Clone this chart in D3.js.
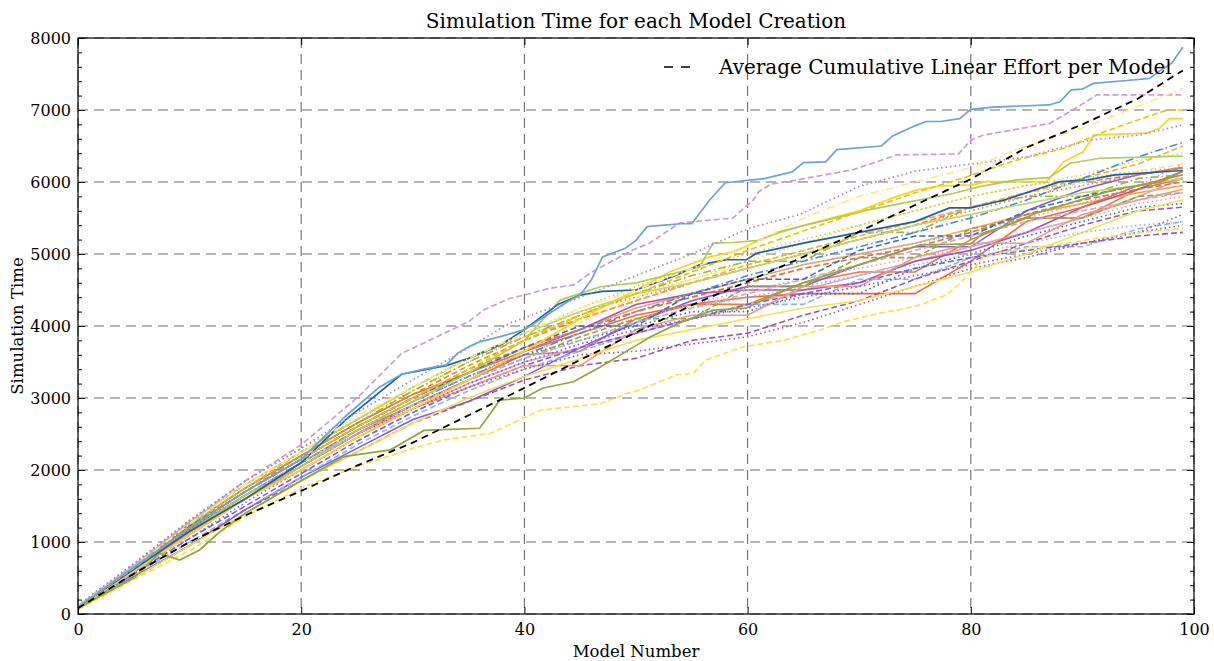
<!DOCTYPE html>
<html>
<head>
<meta charset="utf-8">
<script src="https://cdn.jsdelivr.net/npm/d3@7"></script>
<style>
	body { margin: 0; background: #fff; }
	svg text { font-family: 'DejaVu Serif', serif; fill: #000; }
</style>
</head>
<body>
<svg id="chart" width="1214" height="661"></svg>
<script>
// model numbers shared by the coarse runs
var modelGrid = [0, 5, 10, 15, 20, 25, 30, 35, 40, 45, 50, 55, 60, 65, 70, 75, 80, 85, 90, 95, 99];

var xTicks = [0, 20, 40, 60, 80, 100];
var yTicks = [0, 1000, 2000, 3000, 4000, 5000, 6000, 7000, 8000];

// bulk of the simulation runs, read off roughly at modelGrid
var bulkRuns = [
	[90, 620, 1180, 1650, 2100, 2550, 2900, 3250, 3600, 3650, 4100, 4300, 4300, 4600, 4750, 4750, 5200, 5500, 5500, 5900, 6050],
	[100, 650, 1220, 1700, 2150, 2600, 3000, 3350, 3700, 3950, 4250, 4450, 4650, 4850, 5000, 5150, 5350, 5550, 5700, 5850, 5950],
	[80, 520, 950, 1450, 1900, 2300, 2700, 2950, 3300, 3700, 4050, 4350, 4550, 4550, 4850, 5100, 5100, 5600, 5900, 6100, 6200],
	[100, 600, 1100, 1600, 2000, 2450, 2850, 3200, 3500, 3700, 3900, 4100, 4300, 4500, 4700, 4900, 5100, 5300, 5500, 5800, 6050],
	[90, 580, 1150, 1600, 2050, 2500, 2900, 3250, 3650, 3950, 4300, 4450, 4500, 4500, 4600, 4900, 5050, 5300, 5650, 5900, 6150],
	[100, 640, 1250, 1750, 2200, 2650, 3050, 3350, 3650, 3900, 4150, 4300, 4400, 4450, 4450, 4450, 4900, 5450, 5650, 5950, 6100],
	[110, 680, 1300, 1850, 2300, 2700, 3100, 3500, 3900, 4250, 4550, 4800, 5000, 5200, 5400, 5600, 5800, 5950, 6050, 6150, 6200],
	[100, 630, 1200, 1700, 2200, 2650, 3050, 3450, 3800, 4100, 4350, 4600, 4800, 5000, 5200, 5400, 5650, 5850, 6000, 6100, 6200],
	[80, 540, 1000, 1450, 1900, 2350, 2750, 3100, 3400, 3650, 3900, 4100, 4300, 4300, 4650, 4650, 4950, 5100, 5100, 5350, 5450],
	[90, 560, 1050, 1500, 1950, 2400, 2800, 3150, 3450, 3700, 3900, 4100, 4300, 4450, 4600, 4800, 4950, 5050, 5150, 5250, 5300],
	[70, 500, 950, 1450, 1850, 2250, 2650, 2950, 3250, 3450, 3550, 3800, 3900, 4150, 4350, 4650, 4900, 5150, 5400, 5600, 5650],
	[110, 650, 1250, 1700, 2150, 2600, 2950, 3300, 3600, 3900, 4100, 4300, 4500, 4650, 4800, 4950, 5100, 5300, 5500, 5700, 5800],
	[100, 620, 1180, 1650, 2100, 2550, 2950, 3300, 3600, 3800, 4000, 4200, 4200, 4450, 4450, 4800, 5000, 5250, 5450, 5650, 5700],
	[120, 700, 1300, 1800, 2250, 2700, 3150, 3550, 3900, 4200, 4400, 4600, 4800, 5000, 5200, 5400, 5600, 5800, 5950, 6100, 6200],
	[100, 660, 1250, 1750, 2250, 2700, 3100, 3450, 3800, 4150, 4450, 4650, 4900, 5150, 5400, 5600, 5800, 5950, 6100, 6300, 6400],
	[90, 600, 1150, 1650, 2100, 2550, 2950, 3350, 3700, 4050, 4400, 4650, 4850, 5050, 5250, 5450, 5650, 5850, 6000, 6150, 6250],
	[100, 640, 1230, 1750, 2200, 2650, 3100, 3500, 3850, 4150, 4450, 4700, 4900, 4900, 5300, 5300, 5650, 5800, 5800, 6050, 6100],
	[110, 660, 1250, 1750, 2250, 2700, 3150, 3550, 3850, 4100, 4350, 4600, 4850, 5050, 5250, 5450, 5650, 5850, 6050, 6250, 6500],
	[90, 600, 1150, 1650, 2100, 2550, 2950, 3300, 3600, 3900, 4200, 4450, 4700, 4900, 5100, 5300, 5500, 5750, 6050, 6350, 6550],
	[100, 620, 1150, 1650, 2100, 2550, 2950, 3300, 3650, 3950, 4250, 4450, 4650, 4850, 5000, 5150, 5300, 5500, 5700, 5950, 6250],
	[90, 580, 1100, 1600, 2050, 2500, 2900, 3250, 3550, 3850, 4100, 4100, 4550, 4550, 4950, 4950, 5350, 5500, 5500, 5800, 5850],
	[90, 590, 1120, 1600, 2050, 2500, 2850, 3150, 3450, 3450, 3950, 4150, 4150, 4550, 4550, 4950, 5150, 5150, 5550, 5750, 5900],
	[80, 560, 1050, 1550, 2000, 2450, 2850, 3200, 3500, 3750, 3950, 4100, 4250, 4400, 4550, 4700, 4850, 5000, 5150, 5300, 5400],
	[100, 600, 1150, 1600, 2050, 2500, 2850, 3150, 3400, 3600, 3650, 3750, 3850, 4050, 4300, 4550, 4800, 4950, 5150, 5300, 5550],
	[80, 500, 950, 1400, 1850, 2250, 2650, 3000, 3300, 3550, 3800, 3950, 4100, 4250, 4350, 4550, 4750, 5000, 5300, 5600, 5750],
	[100, 620, 1200, 1700, 2150, 2600, 3000, 3400, 3700, 3950, 4200, 4400, 4600, 4800, 4950, 5100, 5300, 5550, 5750, 5900, 6000],
	[90, 580, 1100, 1600, 2050, 2500, 2900, 3250, 3550, 3800, 4050, 4250, 4450, 4650, 4850, 5050, 5250, 5450, 5600, 5750, 5850],
	[100, 640, 1220, 1700, 2150, 2600, 3000, 3350, 3700, 4000, 4000, 4450, 4650, 4650, 5050, 5250, 5250, 5600, 5800, 5950, 6050],
	[110, 670, 1280, 1800, 2250, 2700, 3150, 3550, 3900, 4200, 4450, 4600, 4800, 5000, 5200, 5400, 5550, 5700, 5850, 5950, 6050],
	[90, 600, 1150, 1650, 2100, 2500, 2900, 3250, 3550, 3800, 4050, 4250, 4400, 4550, 4700, 4850, 5000, 5150, 5300, 5400, 5450]
];
var bulkColors = ['#f07838', '#f5a84a', '#7b5cf0', '#e3a3c5', '#a555a8', '#ee6b3b', '#b5d060', '#f07838', '#8ab8ea', '#7b5cf0',
	'#a555a8', '#e3a3c5', '#2f6fc0', '#f07838', '#ffd21f', '#ffe680', '#9ab63a', '#f5a84a', '#4a8ad8', '#b99be6',
	'#8fa83a', '#f39a7a', '#7b5cf0', '#a555a8', '#f5e050', '#ee6b3b', '#e3a3c5', '#2f6fc0', '#c2d66a', '#8ab8ea'];
var bulkStyles = ['solid', 'solid', 'solid', 'solid', 'solid', 'solid', 'dotted', 'dashed', 'dashed', 'dashed',
	'dashed', 'dotted', 'dotted', 'dotted', 'dotted', 'dashed', 'dashdot', 'dashed', 'dashdot', 'dotted',
	'dashed', 'solid', 'dotted', 'dotted', 'solid', 'dashed', 'dashed', 'dashed', 'solid', 'dotted'];

// runs that stand out, read in more detail as [model, time]
var topBlueRun = [[0, 100], [5, 650], [10, 1200], [15, 1700], [20, 2150], [24, 2750], [27, 3150], [29, 3330], [31, 3400], [33, 3460],
	[34, 3620], [35, 3710], [36, 3780], [38, 3860], [40, 3950], [42, 4150], [44, 4350], [45, 4430], [46, 4640], [47, 4960],
	[49, 5075], [50, 5190], [51, 5380], [54, 5420], [55, 5420], [56.6, 5750], [58, 5990], [61.6, 6050], [64, 6140], [65, 6270],
	[67, 6280], [68, 6450], [72, 6500], [73, 6640], [75, 6780], [76, 6840], [77.3, 6840], [79, 6880], [80, 7010], [82, 7040],
	[87, 7070], [88, 7115], [89, 7280], [90, 7290], [91, 7370], [94, 7410], [96, 7440], [97, 7550], [98, 7650], [99, 7870]];
var topLilacRun = [[0, 110], [5, 680], [10, 1280], [15, 1850], [20, 2350], [25, 3000], [29, 3620], [30.6, 3735], [35, 4060], [36.3, 4220],
	[38.7, 4385], [40, 4430], [42.3, 4525], [44.4, 4570], [46.1, 4755], [49.7, 5055], [51.2, 5150], [53.9, 5430], [58.7, 5500], [60.5, 5750],
	[61, 5865], [62.1, 5970], [64.1, 6020], [69.4, 6170], [71.2, 6260], [73.3, 6375], [78.9, 6390], [80, 6580], [81.1, 6650], [87.1, 6815],
	[89.6, 7045], [91.3, 7210], [99, 7210]];
var lowYellowRun = [[0, 60], [5, 480], [10, 880], [15, 1350], [20, 1750], [25, 2050], [30, 2300], [32.7, 2415], [37, 2510], [39.9, 2720],
	[41.4, 2830], [44.4, 2880], [46.8, 2920], [49.2, 3065], [50.3, 3110], [53.6, 3320], [55.1, 3340], [56.3, 3530], [59.6, 3710], [63.2, 3800],
	[66.5, 3945], [68.6, 4060], [71.9, 4180], [73.7, 4230], [75.4, 4290], [77.8, 4430], [79, 4590], [80.2, 4780], [81.1, 4960], [83.2, 5030],
	[85.3, 5080], [88.6, 5150], [92.2, 5240], [96.1, 5310], [99, 5360]];
var highYellowRun = [[0, 90], [5, 600], [10, 1100], [15, 1600], [20, 2000], [25, 2450], [30, 2850], [35, 3250], [40, 3650], [45, 4100],
	[50, 4500], [53, 4750], [56.6, 4960], [58.7, 5030], [62, 5250], [65, 5400], [70, 5600], [73.4, 5800], [75.2, 5890], [77.2, 5945],
	[80.2, 5960], [81.4, 6005], [86.8, 6005], [88.3, 6280], [90.1, 6420], [91, 6650], [95.8, 6680], [96.9, 6745], [97.8, 6880], [99, 6880]];
var limeRun = [[0, 100], [5, 620], [10, 1150], [15, 1650], [20, 2050], [25, 2550], [30, 2950], [35, 3350], [40, 3800], [42, 4150],
	[43.2, 4360], [46.8, 4545], [50, 4600], [55.7, 4820], [56.9, 5150], [58.7, 5160], [61, 5190], [62.9, 5310], [64.7, 5380], [66.5, 5450],
	[68.4, 5520], [70.7, 5610], [73.7, 5700], [78.4, 5840], [80.8, 5935], [84.1, 6030], [87, 6060], [88.9, 6260], [91.6, 6330], [99, 6360]];
var oliveRun = [[0, 80], [5, 500], [7.3, 845], [9.1, 750], [10.9, 890], [12.7, 1140], [15, 1400], [20, 1850], [23.8, 2185], [28, 2280],
	[31, 2550], [36, 2580], [37.8, 2970], [40, 3000], [41.6, 3135], [44.4, 3225], [46.8, 3430], [49.8, 3710], [51.3, 3850], [54, 4050],
	[56.9, 4220], [59.9, 4250], [61.4, 4360], [65, 4600], [70, 4850], [73, 5000], [75.4, 5125], [80, 5140], [81.1, 5290], [82.9, 5380],
	[85.9, 5570], [89.8, 5750], [93, 5900], [97, 6000], [99, 6150]];
var darkBlueRun = [[0, 100], [5, 620], [10, 1150], [15, 1600], [20, 2100], [24, 2700], [29, 3330], [33, 3450], [35, 3550], [38, 3750],
	[40, 3950], [43, 4300], [45, 4430], [47, 4480], [50, 4500], [53.4, 4690], [55.7, 4850], [58.1, 4920], [59.9, 4920], [60.8, 5010],
	[62, 5050], [65, 5150], [70, 5300], [75, 5450], [78.1, 5640], [80, 5640], [83, 5750], [88, 6005], [90.5, 6030], [92.9, 6100], [99, 6160]];
var periwinkleRun = [[0, 120], [5, 700], [10, 1300], [15, 1850], [20, 2300], [25, 2800], [30, 3250], [35, 3700], [38.7, 4040], [45, 4400],
	[50, 4700], [55, 5000], [60, 5350], [64.7, 5550], [69.9, 5935], [75, 6150], [80, 6250], [85, 6350], [90.6, 6580], [95, 6650], [99, 6790]];
var goldDashRun = [[0, 100], [5, 640], [10, 1200], [15, 1700], [20, 2150], [25, 2600], [30, 3000], [35, 3400], [40, 3800], [45, 4150],
	[50, 4450], [55, 4750], [60, 5050], [66.5, 5400], [70.7, 5620], [75, 5850], [79.6, 6070], [84, 6300], [88.4, 6470], [92, 6700],
	[95.5, 6890], [97.6, 7000], [99, 7000]];
var paleYellowRun = [[0, 110], [5, 650], [10, 1250], [15, 1800], [20, 2250], [25, 2750], [30, 3150], [35, 3550], [40, 3900], [45, 4250],
	[50, 4500], [55, 4800], [60, 5100], [65, 5500], [70, 5800], [75, 6000], [80, 6200], [85, 6500], [90, 6750], [95, 7050], [99, 7300]];

var averageEffort = [[0, 80], [5, 560], [10, 1000], [15, 1370], [20, 1710], [25, 2060], [30, 2380], [35, 2760], [40, 3140], [45, 3530],
	[50, 3910], [55, 4290], [60, 4620], [65, 4960], [70, 5310], [75, 5680], [80, 6040], [85, 6480], [90, 6800], [95, 7160], [99, 7550]];

var namedRuns = [topLilacRun, lowYellowRun, highYellowRun, limeRun, oliveRun, darkBlueRun, periwinkleRun, goldDashRun, paleYellowRun, topBlueRun];
var namedColors = ['#c99ed8', '#ffe04a', '#ffd21f', '#b0cc55', '#8fa83a', '#1f5fa8', '#9b86ea', '#f2c200', '#ffe98a', '#6aa2e0'];
var namedStyles = ['dashed', 'dashed', 'solid', 'solid', 'solid', 'solid', 'dotted', 'dashed', 'dashdot', 'solid'];

var DASHES = { solid: null, dashed: '6,3', dotted: '1.5,3', dashdot: '8,3,1.5,3' };

var svg = d3.select('#chart'),
	margin = { top: 38, right: 20, bottom: 47, left: 78 },
	width = 1214 - margin.left - margin.right,
	height = 661 - margin.top - margin.bottom;

var x = d3.scaleLinear().domain([ 0, 100 ]).range([ 0, width ]);
var y = d3.scaleLinear().domain([ 0, 8000 ]).range([ height, 0 ]);

var g = svg.append('g').attr('transform', 'translate(' + margin.left + ',' + margin.top + ')');

g.append('clipPath').attr('id', 'plot-clip').append('rect').attr('width', width).attr('height', height);

// dashed grey grid
g.append('g').selectAll('line').data(xTicks).enter().append('line')
	.attr('x1', function(d) { return x(d); }).attr('x2', function(d) { return x(d); })
	.attr('y1', 0).attr('y2', height)
	.attr('stroke', '#6e6e6e').attr('stroke-width', 1.1).attr('stroke-dasharray', '10,6');
g.append('g').selectAll('line').data(yTicks).enter().append('line')
	.attr('y1', function(d) { return y(d); }).attr('y2', function(d) { return y(d); })
	.attr('x1', 0).attr('x2', width)
	.attr('stroke', '#6e6e6e').attr('stroke-width', 1.1).attr('stroke-dasharray', '10,6');

var line = d3.line()
	.x(function(d) { return x(d[0]); })
	.y(function(d) { return y(d[1]); });

var runs = g.append('g').attr('clip-path', 'url(#plot-clip)');

bulkRuns.forEach(function(vals, i) {
	var pts = vals.map(function(v, j) { return [ modelGrid[j], v ]; });
	runs.append('path')
		.datum(pts)
		.attr('d', line)
		.attr('fill', 'none')
		.attr('stroke', bulkColors[i])
		.attr('stroke-width', 1.6)
		.attr('stroke-dasharray', DASHES[bulkStyles[i]]);
});

namedRuns.forEach(function(pts, i) {
	runs.append('path')
		.datum(pts)
		.attr('d', line)
		.attr('fill', 'none')
		.attr('stroke', namedColors[i])
		.attr('stroke-width', 1.7)
		.attr('stroke-dasharray', DASHES[namedStyles[i]]);
});

runs.append('path')
	.datum(averageEffort)
	.attr('d', line)
	.attr('fill', 'none')
	.attr('stroke', '#000')
	.attr('stroke-width', 1.8)
	.attr('stroke-dasharray', '7,5');

// axes: ticks point inward on all four sides
var minorY = d3.range(0, 8001, 200).filter(function(d) { return d % 1000 != 0; });

g.append('g').attr('class', 'x axis').attr('transform', 'translate(0,' + height + ')')
	.call(d3.axisBottom(x).tickValues(xTicks).tickSizeInner(-7).tickSizeOuter(0).tickPadding(10).tickFormat(d3.format('d')));
g.append('g').attr('class', 'x axis top').call(d3.axisTop(x).tickValues(xTicks).tickSizeInner(-7).tickSizeOuter(0).tickFormat(''));
g.append('g').attr('class', 'y axis')
	.call(d3.axisLeft(y).tickValues(yTicks).tickSizeInner(-7).tickSizeOuter(0).tickPadding(7).tickFormat(d3.format('d')));
g.append('g').attr('class', 'y axis right').attr('transform', 'translate(' + width + ',0)')
	.call(d3.axisRight(y).tickValues(yTicks).tickSizeInner(-7).tickSizeOuter(0).tickFormat(''));
g.append('g').attr('class', 'y minor')
	.call(d3.axisLeft(y).tickValues(minorY).tickSizeInner(-4).tickSizeOuter(0).tickFormat(''));
g.append('g').attr('class', 'y minor right').attr('transform', 'translate(' + width + ',0)')
	.call(d3.axisRight(y).tickValues(minorY).tickSizeInner(-4).tickSizeOuter(0).tickFormat(''));

g.selectAll('.axis path, .minor path').remove();
g.selectAll('.tick line').attr('stroke', '#000').attr('stroke-width', 1);
g.selectAll('.tick text').style('font-size', '16px').style('font-family', "'DejaVu Serif', serif").attr('fill', '#000');

g.append('rect')
	.attr('width', width).attr('height', height)
	.attr('fill', 'none').attr('stroke', '#000').attr('stroke-width', 1.2);

// titles
svg.append('text')
	.attr('x', margin.left + width / 2).attr('y', 28)
	.attr('text-anchor', 'middle').style('font-size', '20px')
	.text('Simulation Time for each Model Creation');
svg.append('text')
	.attr('x', margin.left + width / 2).attr('y', 657)
	.attr('text-anchor', 'middle').style('font-size', '16.5px')
	.text('Model Number');
svg.append('text')
	.attr('transform', 'translate(23,' + (margin.top + height / 2) + ') rotate(-90)')
	.attr('text-anchor', 'middle').style('font-size', '16.5px')
	.text('Simulation Time');

// legend, no frame
var legend = g.append('g').attr('transform', 'translate(586,29)');
legend.append('line')
	.attr('x1', 0).attr('x2', 32).attr('y1', 0).attr('y2', 0)
	.attr('stroke', '#000').attr('stroke-width', 1.6).attr('stroke-dasharray', '9,8');
legend.append('text')
	.attr('x', 55).attr('y', 7).style('font-size', '20px')
	.text('Average Cumulative Linear Effort per Model');
</script>
</body>
</html>
